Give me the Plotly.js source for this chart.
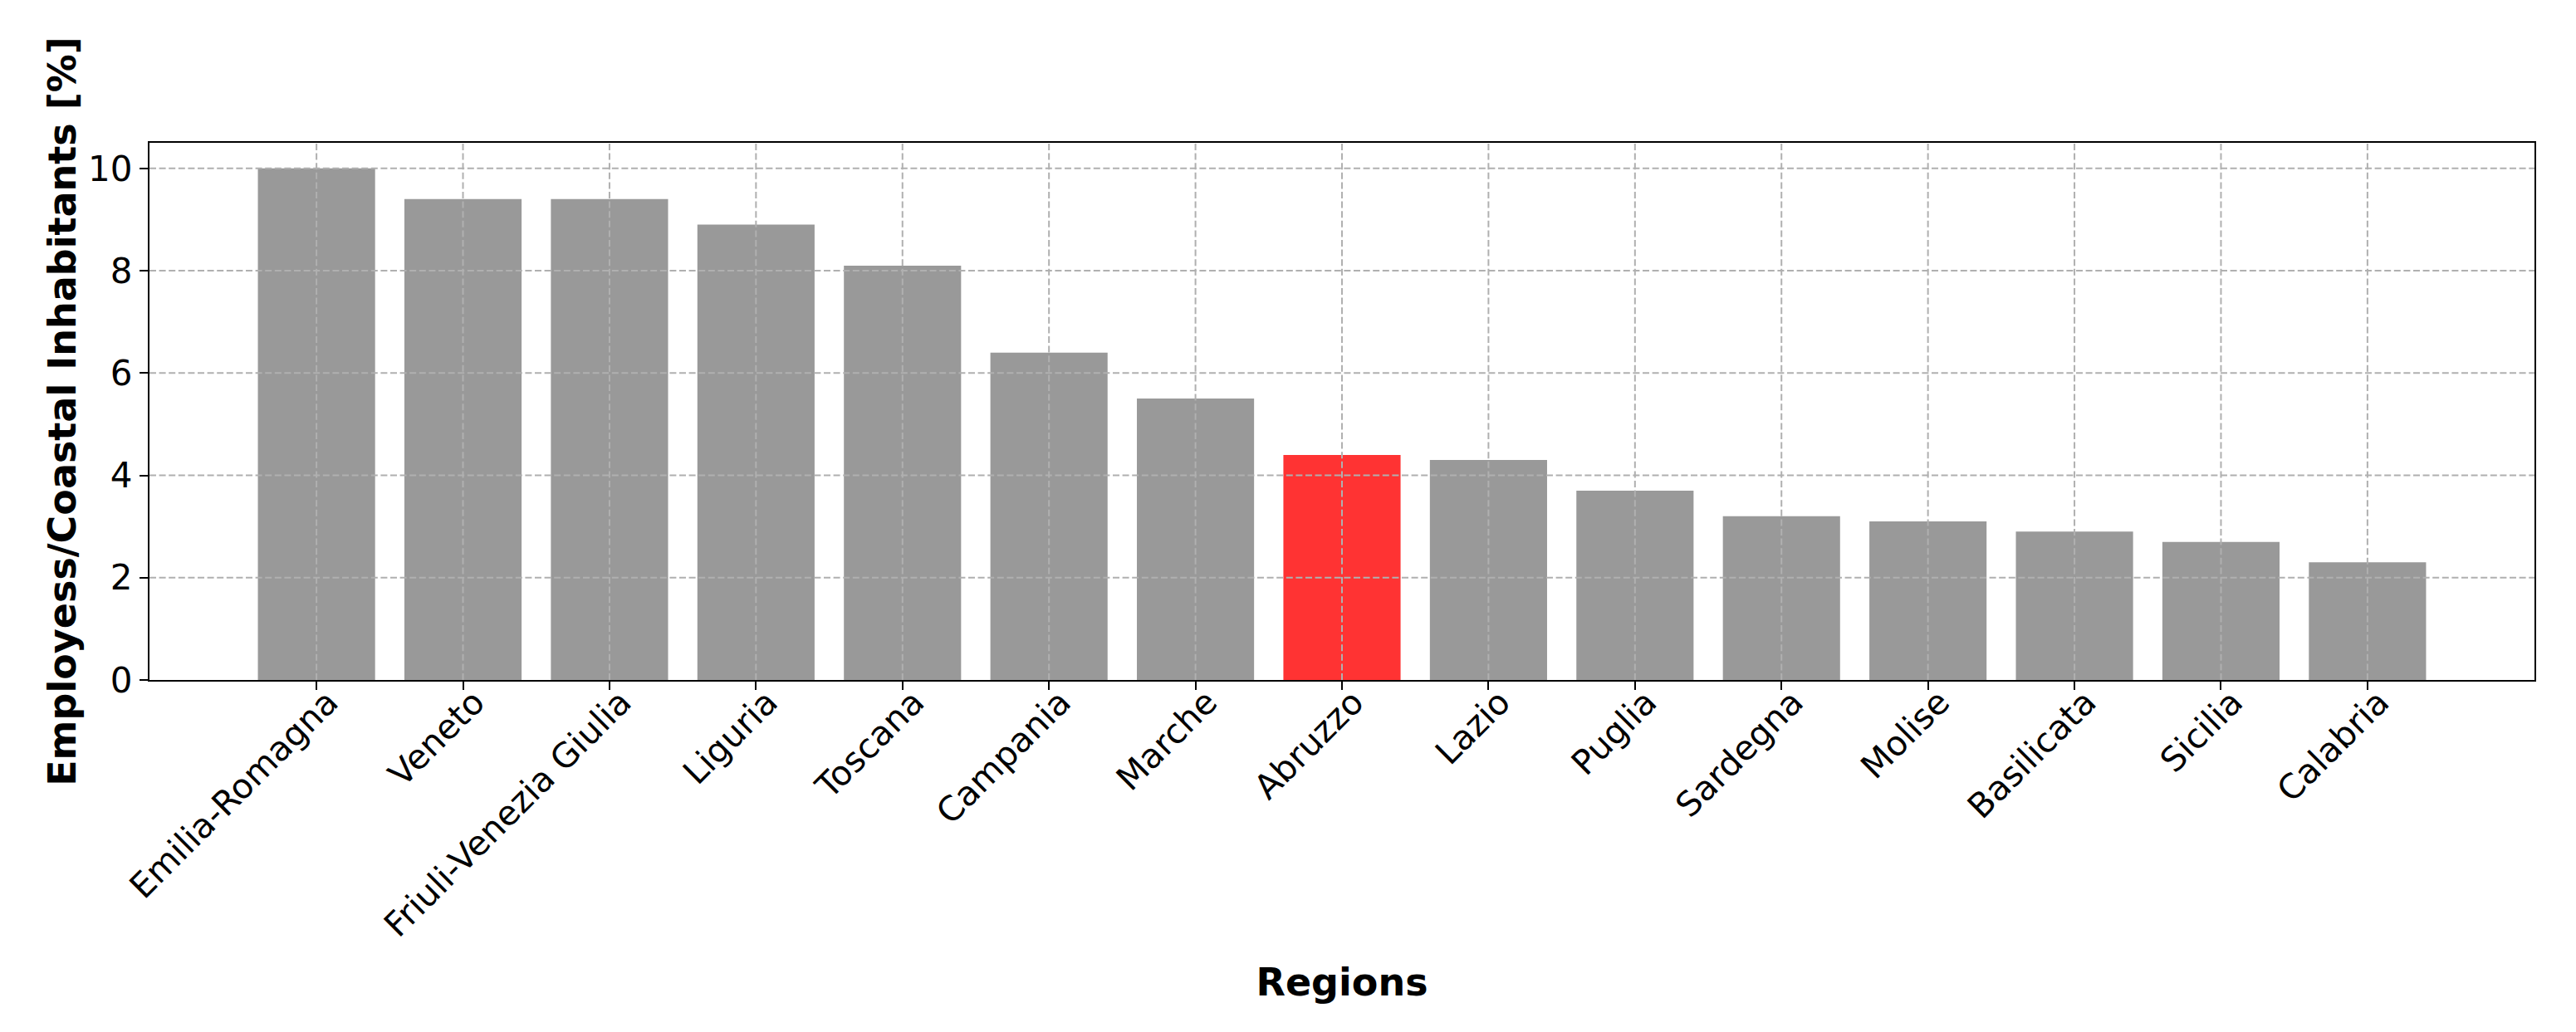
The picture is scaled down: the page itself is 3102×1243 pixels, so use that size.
<!DOCTYPE html>
<html>
<head>
<meta charset="utf-8">
<script src="https://cdn.plot.ly/plotly-3.0.1.min.js"></script>
<style>
  html, body { margin: 0; padding: 0; background: #ffffff; }
  #chart { width: 3102px; height: 1243px; }
</style>
</head>
<body>
<div id="chart"></div>
<script>
// ---- data ----
const regions = ["Emilia-Romagna", "Veneto", "Friuli-Venezia Giulia", "Liguria", "Toscana",
  "Campania", "Marche", "Abruzzo", "Lazio", "Puglia", "Sardegna", "Molise",
  "Basilicata", "Sicilia", "Calabria"];
const employeesPerCoastalInhabitants = [10.0, 9.4, 9.4, 8.9, 8.1, 6.4, 5.5, 4.4, 4.3, 3.7, 3.2, 3.1, 2.9, 2.7, 2.3];
const highlightedRegion = "Abruzzo";
const yTickValues = [0, 2, 4, 6, 8, 10];
const yTickLabels = ["0", "2", "4", "6", "8", "10"];
const xTitle = "Regions";
const yTitle = "Employess/Coastal Inhabitants [%]";

// ---- style ----
const GRAY = "#999999";
const RED = "#ff3333";
const GRID = "#b0b0b0";
const FONT = "DejaVu Sans, Liberation Sans, sans-serif";

const barColors = regions.map(r => r === highlightedRegion ? RED : GRAY);

const trace = {
  type: "bar",
  x: regions,
  y: employeesPerCoastalInhabitants,
  marker: { color: barColors, line: { width: 0 } },
  hoverinfo: "x+y"
};

const gridStyle = { color: GRID, width: 2, dash: "8px,3.6px" };
const shapes = []
  .concat(yTickValues.filter(v => v > 0).map(v => ({
    type: "line", layer: "above", xref: "paper", x0: 0, x1: 1, yref: "y", y0: v, y1: v, line: gridStyle
  })))
  .concat(regions.map(r => ({
    type: "line", layer: "above", xref: "x", x0: r, x1: r, yref: "paper", y0: 0, y1: 1, line: gridStyle
  })));

const layout = {
  width: 3102,
  height: 1243,
  paper_bgcolor: "#ffffff",
  plot_bgcolor: "#ffffff",
  margin: { l: 180, r: 50, t: 172, b: 424, pad: 0 },
  bargap: 0.2,
  showlegend: false,
  font: { family: FONT, size: 42, color: "#000000" },
  xaxis: {
    type: "category",
    range: [-1.14, regions.length - 1 + 1.14],
    showgrid: false,
    zeroline: false,
    showline: true, linecolor: "#000000", linewidth: 2.2, mirror: true,
    ticks: "outside", ticklen: 10, tickwidth: 2, tickcolor: "#000000",
    tickangle: -45,
    ticklabelstandoff: -26,
    ticklabelshift: 14,
    tickfont: { family: FONT, size: 41, color: "#000000" },
    automargin: false,
    title: { text: xTitle, font: { family: FONT, size: 46, weight: "bold", color: "#000000" }, standoff: 30 }
  },
  yaxis: {
    range: [0, 10.5],
    tickvals: yTickValues,
    ticktext: yTickLabels,
    showgrid: false,
    zeroline: false,
    showline: true, linecolor: "#000000", linewidth: 2.2, mirror: true,
    ticks: "outside", ticklen: 10, tickwidth: 2, tickcolor: "#000000",
    tickfont: { family: FONT, size: 42, color: "#000000" },
    automargin: false,
    title: { text: yTitle, font: { family: FONT, size: 46, weight: "bold", color: "#000000" }, standoff: 0 }
  },
  shapes: shapes
};

Plotly.newPlot("chart", [trace], layout, { displayModeBar: false, staticPlot: true });
</script>
</body>
</html>
